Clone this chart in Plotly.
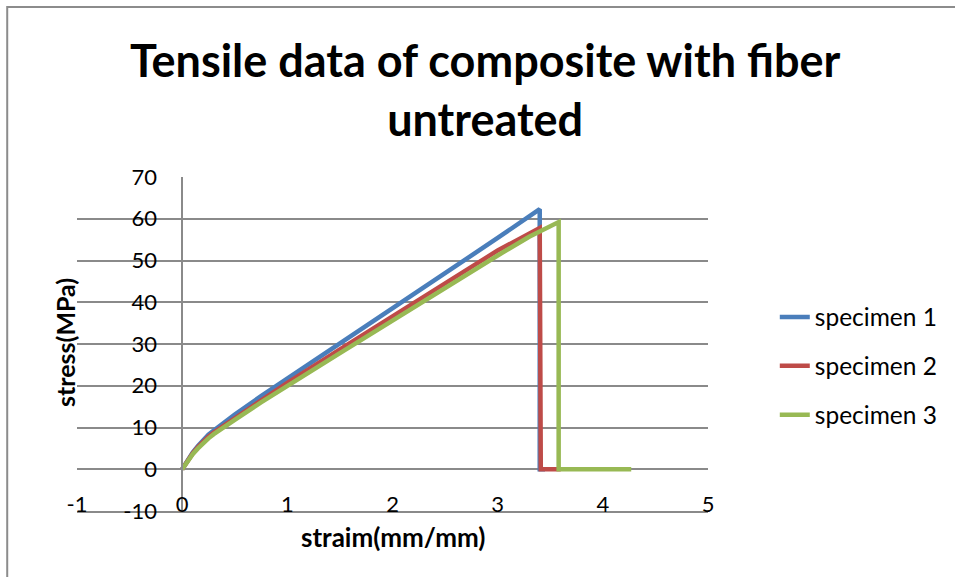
import plotly.graph_objects as go

# Tensile test curves (strain in mm/mm, stress in MPa)
strain_1 = [0, 0.05, 0.1, 0.15, 0.2, 0.25, 0.3, 0.4, 0.5, 0.75, 1.0, 1.5, 2.0, 2.5, 3.0, 3.40, 3.40, 3.45]
stress_1 = [0, 2.2, 4.0, 5.6, 7.0, 8.3, 9.3, 11.3, 13.1, 17.5, 21.7, 30.0, 38.5, 47.0, 55.4, 62.3, 0, 0]

strain_2 = [0, 0.05, 0.1, 0.15, 0.2, 0.25, 0.3, 0.4, 0.5, 0.75, 1.0, 1.5, 2.0, 2.5, 3.0, 3.40, 3.41, 3.60]
stress_2 = [0, 2.0, 3.8, 5.3, 6.6, 7.8, 8.8, 10.5, 12.3, 16.6, 20.7, 28.7, 36.7, 44.6, 52.4, 57.8, 0, 0]

strain_3 = [0, 0.05, 0.1, 0.15, 0.2, 0.25, 0.3, 0.4, 0.5, 0.75, 1.0, 1.5, 2.0, 2.5, 3.0, 3.3, 3.58, 3.58, 4.27]
stress_3 = [0, 1.9, 3.6, 5.0, 6.3, 7.4, 8.4, 10.0, 11.8, 16.0, 20.0, 27.8, 35.6, 43.5, 51.2, 55.7, 59.2, 0, 0]

series_names = ["specimen 1", "specimen 2", "specimen 3"]
series_colors = ["#4A7EBB", "#BE4B48", "#98B954"]

x_ticks = [-1, 0, 1, 2, 3, 4, 5]
y_ticks = [-10, 0, 10, 20, 30, 40, 50, 60, 70]

FONT = "Lato"
GRID = "#8A8A8A"

fig = go.Figure()
for i, (xs, ys) in enumerate([(strain_1, stress_1), (strain_2, stress_2), (strain_3, stress_3)]):
    fig.add_trace(go.Scatter(
        x=xs, y=ys, mode="lines", name=series_names[i],
        legendgroup=f"g{i}",
        line=dict(color=series_colors[i], width=4.5),
    ))

fig.update_layout(
    width=955, height=577,
    margin=dict(l=77, r=245, t=177, b=66),
    paper_bgcolor="white", plot_bgcolor="white",
    font=dict(family=FONT, color="black"),
    title=dict(
        text="<b>Tensile data of composite with fiber<br>untreated</b>",
        x=0.508, xanchor="center", xref="container",
        y=0.866, yanchor="top", yref="container",
        font=dict(size=45, family=FONT, color="black"),
    ),
    showlegend=True,
    legend=dict(
        x=(777 - 77) / 633, xanchor="left",
        y=(511 - 366) / 334, yanchor="middle",
        traceorder="grouped", tracegroupgap=14,
        font=dict(size=24.5, family=FONT, color="black"),
        bgcolor="rgba(0,0,0,0)",
    ),
    xaxis=dict(
        range=[-1, 5], tickvals=x_ticks, ticktext=[str(v) for v in x_ticks],
        showgrid=False, zeroline=False,
        showline=True, linecolor=GRID, linewidth=1.5,
        ticks="", ticklabelstandoff=-27,
        tickfont=dict(size=22, family=FONT, color="black"),
    ),
    yaxis=dict(
        range=[-10, 70], tickvals=y_ticks, ticktext=[str(v) for v in y_ticks],
        showgrid=True, gridcolor=GRID, gridwidth=1.5,
        zeroline=False,
        showline=True, linecolor=GRID, linewidth=1.5,
        anchor="free", position=1 / 6,
        ticks="", ticklabelstandoff=20,
        tickfont=dict(size=22, family=FONT, color="black"),
    ),
    annotations=[
        dict(text="<b>straim(mm/mm)</b>", xref="paper", yref="paper",
             x=0.5, y=(511 - 537) / 334, xanchor="center", yanchor="middle",
             showarrow=False, font=dict(size=26, family=FONT, color="black")),
        dict(text="<b>stress(MPa)</b>", xref="paper", yref="paper",
             x=(65 - 77) / 633, y=(511 - 343) / 334, xanchor="center", yanchor="middle",
             textangle=-90, showarrow=False,
             font=dict(size=25, family=FONT, color="black")),
    ],
    shapes=[
        dict(type="rect", xref="paper", yref="paper",
             x0=(7 - 77) / 633, x1=(962 - 77) / 633,
             y0=(511 - 584) / 334, y1=(511 - 7) / 334,
             line=dict(color="#8C8C8C", width=2), fillcolor="rgba(0,0,0,0)",
             layer="below"),
    ],
)

fig.write_html("out.html")
